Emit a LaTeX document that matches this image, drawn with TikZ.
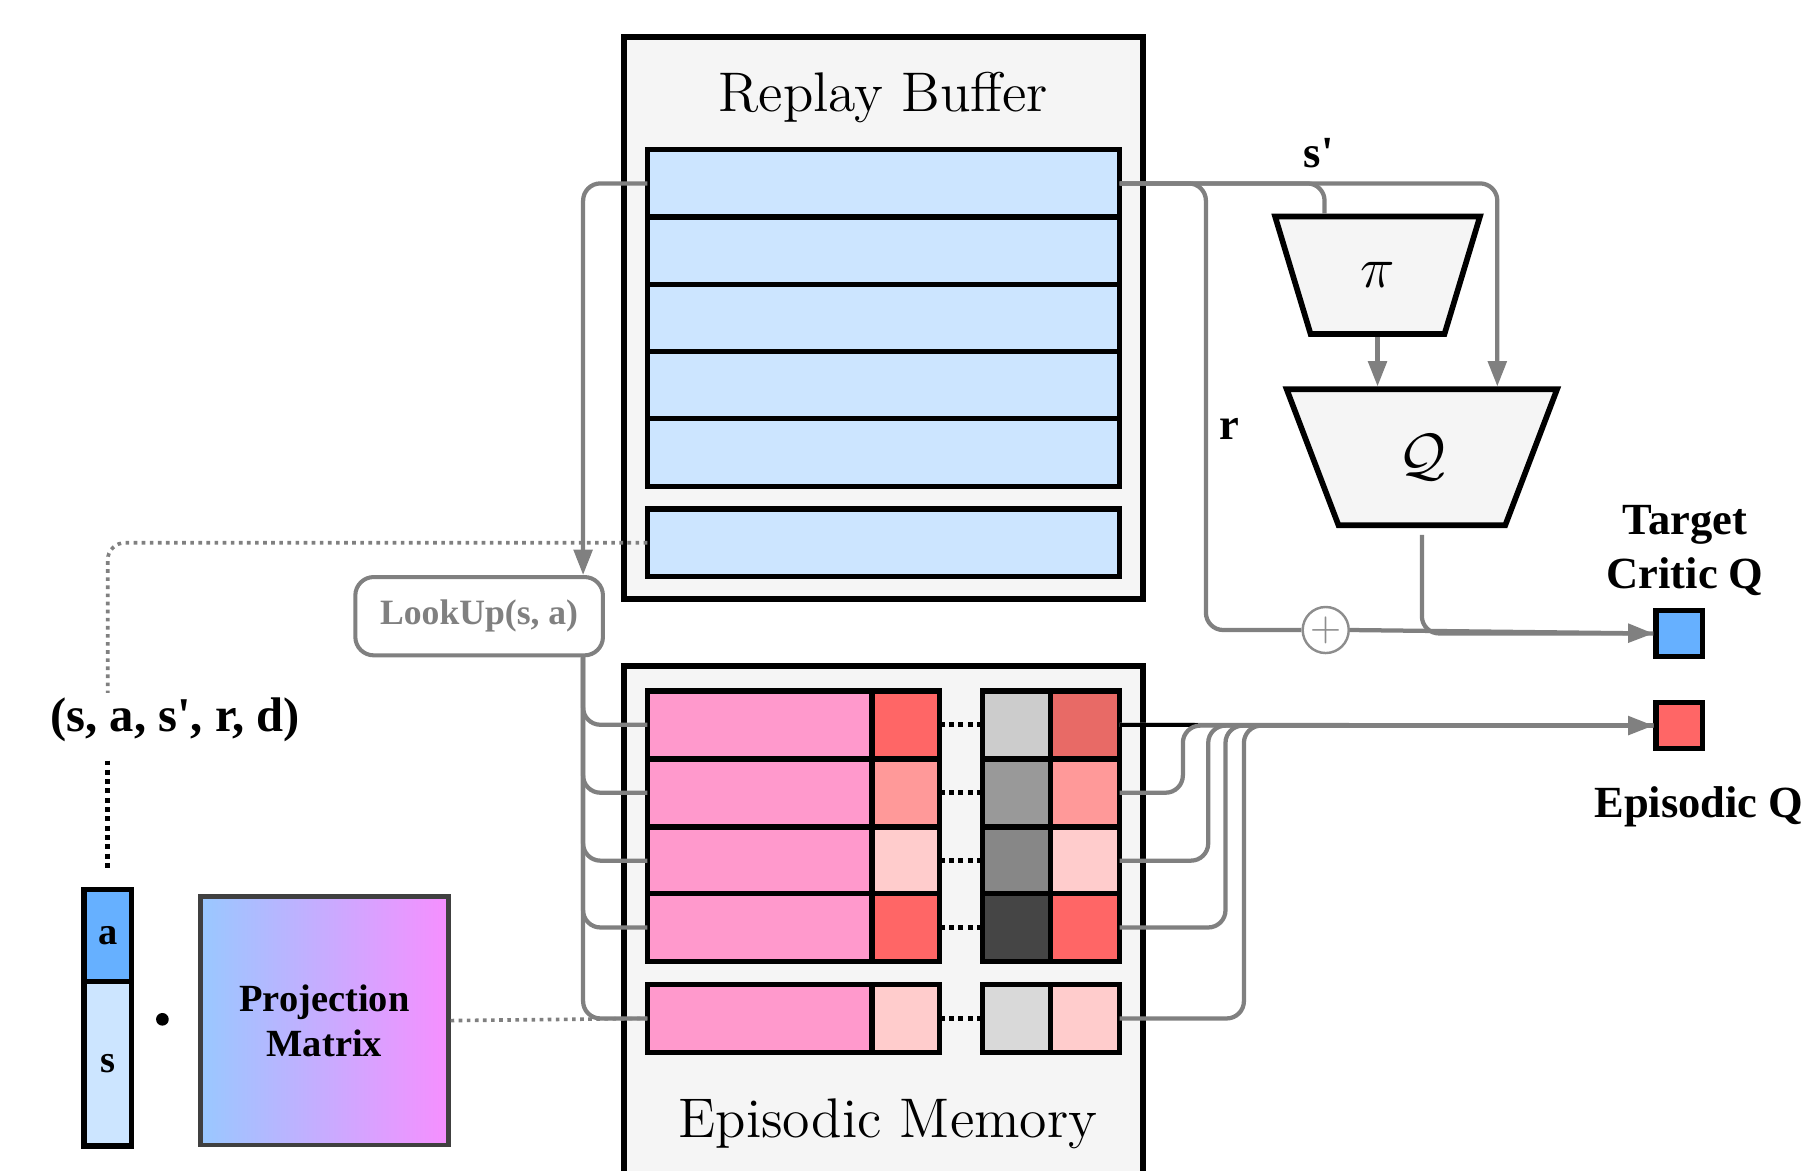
\documentclass[tikz,border=0pt]{standalone}
\usepackage{fontspec}
\newfontfamily\tnr{Liberation Serif}
\usetikzlibrary{positioning,arrows.meta,calc,shapes.geometric}
\definecolor{bufFill}{RGB}{245,245,245}
\definecolor{rowBlue}{RGB}{204,229,255}
\definecolor{keyPink}{RGB}{255,153,204}
\definecolor{qHigh}{RGB}{255,102,102}
\definecolor{qMid}{RGB}{255,153,153}
\definecolor{qLow}{RGB}{255,204,204}
\definecolor{qDark}{RGB}{232,106,102}
\definecolor{tgtBlue}{RGB}{102,176,255}
\definecolor{lnk}{RGB}{128,128,128}
\definecolor{projL}{RGB}{153,200,255}
\definecolor{projR}{RGB}{246,143,255}
\tikzset{
  panel/.style={rectangle, draw=black, line width=1.5pt, fill=bufFill,
                inner sep=0pt, outer sep=0pt, anchor=north west, minimum width=45mm},
  cell/.style={rectangle, draw=black, line width=1.3pt, inner sep=0pt,
               outer sep=0pt, anchor=north west, minimum height=5.85mm},
  net/.style={trapezium, trapezium stretches=true, draw=black, line width=1.4pt,
              fill=bufFill, inner sep=0pt, font=\fontsize{15}{17}\selectfont},
  outq/.style={rectangle, draw=black, line width=1.4pt, minimum size=4mm,
               inner sep=0pt},
  ttl/.style={font=\fontsize{13.8}{16}\selectfont},
  lbl/.style={font=\tnr\bfseries\fontsize{11}{13.4}\selectfont, inner sep=1pt,
              align=center},
  link/.style={draw=lnk, line width=1.05pt, rounded corners=1.5mm},
  flow/.style={link, -{Triangle[length=2.2mm, width=1.6mm]}},
  trail/.style={draw=lnk, line width=0.9pt, dash pattern=on 0.9pt off 1.1pt,
                rounded corners=1.5mm},
  memdot/.style={draw=black, line width=1.2pt, dash pattern=on 1.2pt off 1.1pt},
}
\begin{document}
\begin{tikzpicture}[x=0.1mm, y=-0.1mm]
  \useasboundingbox (0,0) rectangle (1568,1016);
  \clip (0,0) rectangle (1568,1016);

  % --- replay buffer ------------------------------------------------------
  \node[panel, minimum height=48.8mm] (rbpanel) at (542,32) {};
  \node[ttl] (rbtitle) at (767,85) {Replay Buffer};
  \foreach \i in {1,...,5}
    \node[cell, fill=rowBlue, minimum width=41mm] (rb\i) at (562,{130+58.4*(\i-1)}) {};
  \node[cell, fill=rowBlue, minimum width=41mm] (rb6) at (562,442) {};

  % --- episodic memory : key | value ... count | value -------------------
  \node[panel, minimum height=50mm] (empanel) at (542,578) {};
  \node[ttl] (emtitle) at (771,976) {Episodic Memory};
  \foreach \i/\y/\cv/\cg/\cq in {1/600/qHigh/black!20/qDark,
                                 2/659/qMid/black!40/qMid,
                                 3/718/qLow/black!47/qLow,
                                 4/776/qHigh/black!73/qHigh,
                                 5/855/qLow/black!15/qLow}{
    \node[cell, fill=keyPink, minimum width=19.5mm] (emk\i) at (562,\y) {};
    \node[cell, fill=\cv, minimum width=5.9mm] (emv\i) at (757,\y) {};
    \node[cell, fill=\cg, minimum width=5.9mm] (emg\i) at (853,\y) {};
    \node[cell, fill=\cq, minimum width=6mm] (emq\i) at (912,\y) {};
    \draw[memdot] (emv\i.east) -- (emg\i.west);
  }

  % --- lookup and the projected key ----------------------------------------
  \node[rectangle, rounded corners=1.6mm, draw=lnk, line width=1pt, fill=white,
        minimum width=21.5mm, minimum height=6.8mm, text=lnk,
        font=\tnr\bfseries\fontsize{8.8}{10}\selectfont] (look) at (416,535) {LookUp(s, a)};
  \node[lbl, font=\tnr\bfseries\fontsize{12}{14}\selectfont] (tuple) at (152,625)
        {(s, a, s\textquotesingle, r, d)};
  \node[cell, fill=tgtBlue, minimum width=4.1mm, minimum height=8mm,
        font=\tnr\bfseries\fontsize{9.5}{11}\selectfont] (veca) at (73,772) {a};
  \node[cell, fill=rowBlue, minimum width=4.1mm, minimum height=14.3mm,
        font=\tnr\bfseries\fontsize{9.5}{11}\selectfont] (vecs) at (73,852) {s};
  \node[circle, fill=black, inner sep=0pt, minimum size=1.1mm] (dot) at (141,885) {};
  \node[rectangle, anchor=north west, draw=black!75, line width=1.2pt,
        left color=projL, right color=projR, minimum width=21.5mm,
        minimum height=21.6mm, align=center,
        font=\tnr\bfseries\fontsize{9.5}{11.2}\selectfont] (proj) at (172,776)
        {Projection\\Matrix};

  % --- target networks ------------------------------------------------------
  \node[net, trapezium left angle=110, trapezium right angle=110,
        minimum width=17.8mm, minimum height=10.2mm] (pi) at (1196,239) {$\pi$};
  \node[net, trapezium left angle=108, trapezium right angle=108,
        minimum width=23.5mm, minimum height=11.8mm] (Q) at (1234.5,397) {$\mathcal{Q}$};
  \node[circle, draw=lnk!90, line width=0.6pt, fill=white, minimum size=4mm,
        inner sep=0pt, text=lnk!90] (plus) at (1151,547) {$+$};
  \coordinate (rsplit) at (1047,547);

  % --- outputs ----------------------------------------------------------------
  \node[outq, fill=tgtBlue] (tq) at (1458,550) {};
  \node[outq, fill=qHigh] (eq) at (1458,630) {};
  \node[lbl, above=0.6mm of tq, xshift=0.5mm] (tqlbl) {Target\\Critic Q};
  \node[lbl, below=2.6mm of eq, xshift=1.7mm] (eqlbl) {Episodic Q};
  \node[lbl] (slbl) at (1145,133) {s\textquotesingle};
  \node[lbl] (rlbl) at (1067,372) {r};

  % --- sampled transition -> lookup / targets ------------------------------
  \draw[flow] (rb1.west) -| ([xshift=-1.9mm]look.north east);
  \draw[trail] (rb6.west) -| (tuple.north -| veca.north);
  \draw[memdot, shorten <=1.2mm, shorten >=1.6mm] (tuple.south -| veca.north) -- (veca.north);
  \draw[trail] (proj.east) -- (emk5.west);
  \foreach \i in {1,...,5}
    \draw[link] ([xshift=-1.9mm]look.south east) |- (emk\i.west);

  \draw[link] (rb1.east) -| ([xshift=-4.6mm]pi.north);
  \draw[flow] (rb1.east) -| ([xshift=6.55mm]Q.north);
  \draw[link] (rb1.east) -| (rsplit) -- (plus.west);
  \draw[flow] (pi.south) -- (pi.south |- Q.north);
  \draw[link] ([yshift=-0.6mm]Q.south) |- (tq.west);
  \draw[flow] (plus.east) -- (tq.west);

  % --- episodic values -> episodic Q ----------------------------------------
  \draw[flow] (emq1.east) -- (eq.west);
  \draw[draw=black, line width=1pt] (emq1.east) -- ++(6.8mm,0);
  \foreach \i/\dx in {2/5.5, 3/7.7, 4/9.2, 5/10.8}
    \draw[link] (emq\i.east) -- ++(\dx mm,0) |- (eq.west);
\end{tikzpicture}
\end{document}
